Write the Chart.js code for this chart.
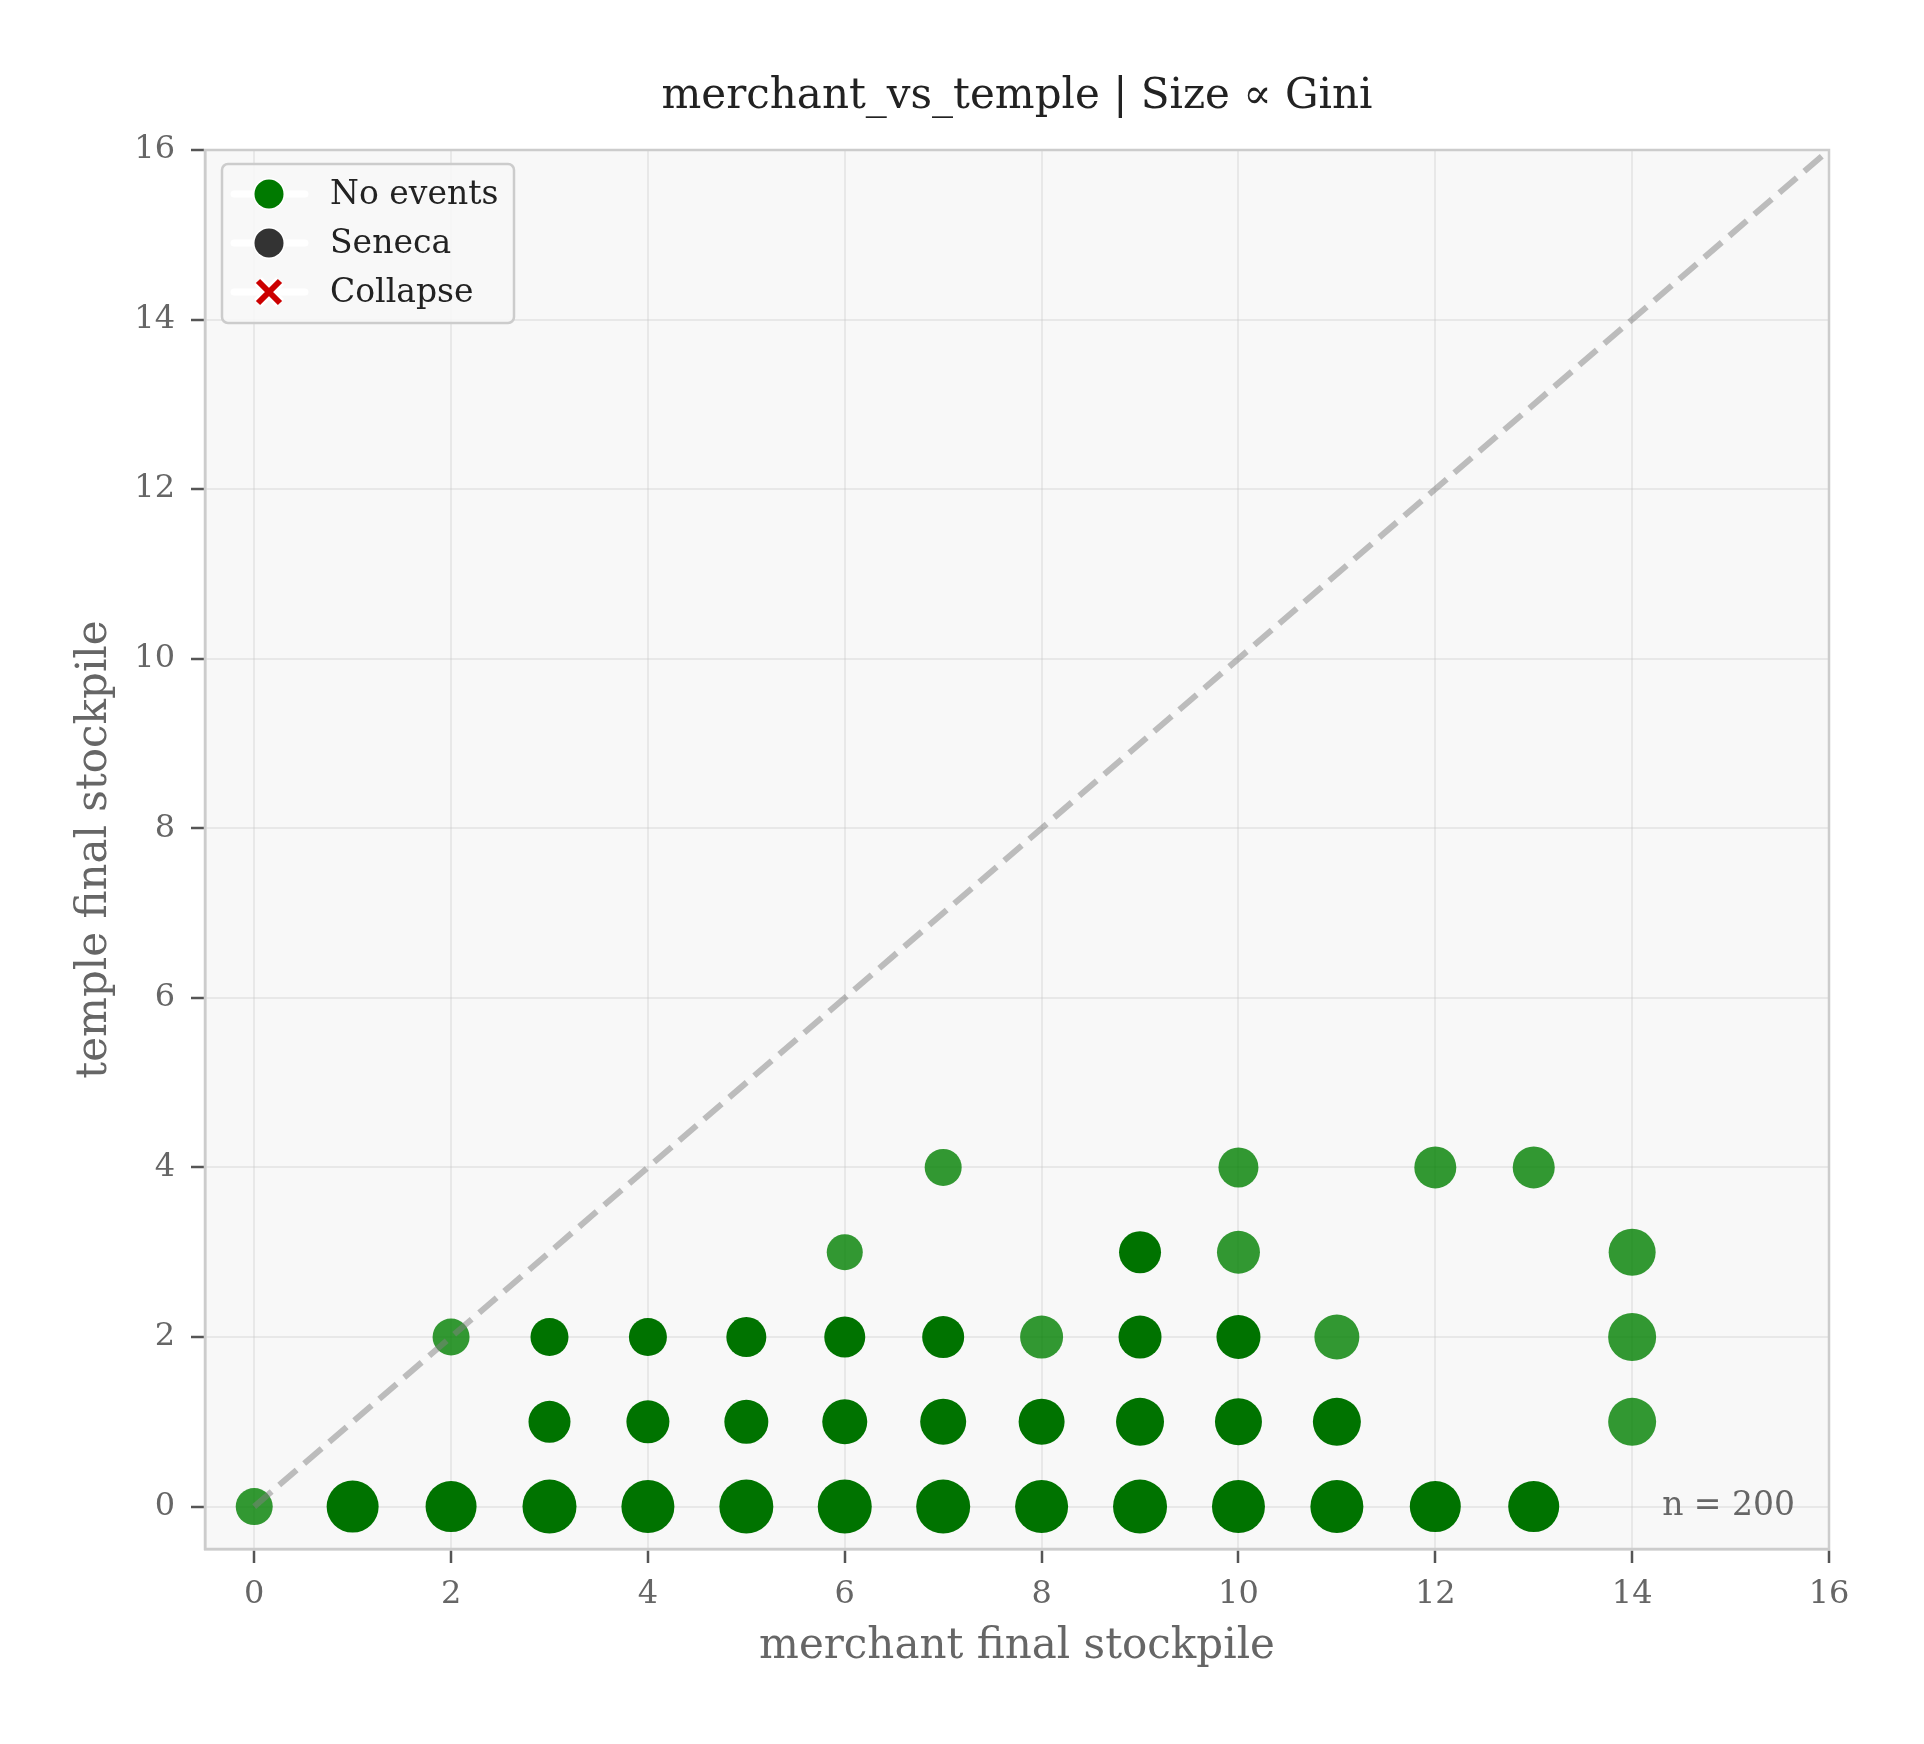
<!DOCTYPE html>
<html lang="en">
<head>
  <meta charset="utf-8" />
  <title>merchant_vs_temple | Size ∝ Gini</title>
  <script src="https://cdn.jsdelivr.net/npm/chart.js@4.4.1/dist/chart.umd.min.js"></script>
  <style>
    html, body { margin: 0; padding: 0; background: #ffffff; }
    #wrap { width: 1924px; height: 1744px; position: relative; }
  </style>
</head>
<body>
  <div id="wrap"><canvas id="c"></canvas></div>
  <script>
    // one entry per visible (merchant, temple) cell
    const merchant = [0, 1, 2, 3, 4, 5, 6, 7, 8, 9, 10, 11, 12, 13,
      3, 4, 5, 6, 7, 8, 9, 10, 11, 14,
      2, 3, 4, 5, 6, 7, 8, 9, 10, 11, 14,
      6, 9, 10, 14,
      7, 10, 12, 13];
    const temple = [0, 0, 0, 0, 0, 0, 0, 0, 0, 0, 0, 0, 0, 0,
      1, 1, 1, 1, 1, 1, 1, 1, 1, 1,
      2, 2, 2, 2, 2, 2, 2, 2, 2, 2, 2,
      3, 3, 3, 3,
      4, 4, 4, 4];
    const gini = [0.37, 0.52, 0.51, 0.54, 0.53, 0.54, 0.54, 0.54, 0.53, 0.54, 0.53, 0.53, 0.51, 0.51,
      0.42, 0.43, 0.44, 0.45, 0.46, 0.46, 0.48, 0.47, 0.48, 0.48,
      0.37, 0.38, 0.38, 0.40, 0.41, 0.42, 0.43, 0.43, 0.44, 0.45, 0.48,
      0.36, 0.42, 0.43, 0.47,
      0.37, 0.40, 0.42, 0.42];
    // runs landing on the same cell (estimated, 200 total)
    const runs = [1, 9, 9, 9, 9, 9, 9, 9, 9, 9, 9, 9, 9, 9,
      5, 5, 5, 5, 5, 5, 5, 5, 5, 1,
      1, 3, 3, 3, 3, 3, 1, 3, 3, 1, 1,
      1, 4, 1, 1,
      1, 1, 1, 1];
    const xTicks = [0, 2, 4, 6, 8, 10, 12, 14, 16];
    const yTicks = [0, 2, 4, 6, 8, 10, 12, 14, 16];
    const nRuns = 200;
    const chartTitle = 'merchant_vs_temple | Size ∝ Gini';

    const SERIF = "'DejaVu Serif', 'Liberation Serif', serif";
    const GREEN_ONE = 'rgba(0, 128, 0, 0.8)';
    const GREEN_MANY = '#007300';

    const points = merchant.map((x, i) => ({ x, y: temple[i], g: gini[i], k: runs[i] }));

    Chart.defaults.font.family = SERIF;

    const frame = {
      id: 'frame',
      beforeDraw(chart) {
        const { ctx, chartArea: a } = chart;
        ctx.save();
        ctx.fillStyle = '#f8f8f8';
        ctx.fillRect(a.left, a.top, a.right - a.left, a.bottom - a.top);
        ctx.restore();
      },
      afterDraw(chart) {
        const { ctx, chartArea: a } = chart;
        ctx.save();
        ctx.strokeStyle = '#cccccc';
        ctx.lineWidth = 2.5;
        ctx.strokeRect(a.left, a.top, a.right - a.left, a.bottom - a.top);
        // title, centred over the plot area
        ctx.font = '42px ' + SERIF;
        ctx.fillStyle = '#222222';
        ctx.textAlign = 'center';
        ctx.textBaseline = 'alphabetic';
        ctx.fillText(chartTitle, (a.left + a.right) / 2, a.top - 42);
        // run count note
        ctx.font = '33px ' + SERIF;
        ctx.fillStyle = '#666666';
        ctx.textAlign = 'right';
        ctx.fillText('n = ' + nRuns, a.right - 34, a.bottom - 34);
        ctx.restore();
      }
    };

    const innerLegend = {
      id: 'innerLegend',
      afterDraw(chart) {
        const { ctx, chartArea: a } = chart;
        const items = chart.data.datasets.filter((d) => d.inLegend);
        const x0 = a.left + 17, y0 = a.top + 14, w = 292, rowH = 49;
        const h = 30 + rowH * (items.length - 1) + 31;
        ctx.save();
        ctx.beginPath();
        ctx.roundRect(x0, y0, w, h, 6);
        ctx.fillStyle = 'rgba(248,248,248,0.85)';
        ctx.fill();
        ctx.strokeStyle = '#cccccc';
        ctx.lineWidth = 2.5;
        ctx.stroke();
        items.forEach((d, i) => {
          const cy = y0 + 30 + i * rowH;
          const mx = x0 + 47;
          ctx.strokeStyle = '#ffffff';
          ctx.lineCap = 'round';
          ctx.lineWidth = 7;
          ctx.beginPath();
          ctx.moveTo(x0 + 12, cy);
          ctx.lineTo(x0 + 83, cy);
          ctx.stroke();
          if (d.pointStyle === 'crossRot') {
            const r = 11;
            [['#ffffff', 11], [d.legendColor, 6]].forEach(([col, lw]) => {
              ctx.strokeStyle = col;
              ctx.lineWidth = lw;
              ctx.lineCap = 'butt';
              ctx.beginPath();
              ctx.moveTo(mx - r, cy - r); ctx.lineTo(mx + r, cy + r);
              ctx.moveTo(mx - r, cy + r); ctx.lineTo(mx + r, cy - r);
              ctx.stroke();
            });
          } else {
            ctx.beginPath();
            ctx.arc(mx, cy, 16, 0, Math.PI * 2);
            ctx.fillStyle = '#ffffff';
            ctx.fill();
            ctx.beginPath();
            ctx.arc(mx, cy, 14.5, 0, Math.PI * 2);
            ctx.fillStyle = d.legendColor;
            ctx.fill();
          }
          ctx.font = '33px ' + SERIF;
          ctx.fillStyle = '#222222';
          ctx.textAlign = 'left';
          ctx.textBaseline = 'middle';
          ctx.fillText(d.label, x0 + 108, cy + 1);
        });
        ctx.restore();
      }
    };

    const tickFont = { family: SERIF, size: 32 };
    const gridOpts = {
      color: 'rgba(200,200,200,0.32)',
      lineWidth: 2,
      tickColor: '#555555',
      tickWidth: 2.5,
      tickLength: 14
    };

    new Chart(document.getElementById('c'), {
      data: {
        datasets: [
          {
            type: 'line',
            label: 'diagonal',
            data: [{ x: 0, y: 0 }, { x: 16, y: 16 }],
            borderColor: 'rgba(128,128,128,0.5)',
            borderWidth: 6,
            borderDash: [23, 10],
            pointRadius: 0,
            fill: false,
            order: 0
          },
          {
            type: 'scatter',
            label: 'No events',
            inLegend: true,
            legendColor: '#007a00',
            data: points,
            pointRadius: (c) => (c.raw ? c.raw.g * 50 : 0),
            pointHoverRadius: (c) => (c.raw ? c.raw.g * 50 : 0),
            backgroundColor: (c) => (c.raw && c.raw.k > 1 ? GREEN_MANY : GREEN_ONE),
            borderWidth: 0,
            order: 1
          },
          {
            type: 'scatter',
            label: 'Seneca',
            inLegend: true,
            legendColor: '#333333',
            data: [],
            backgroundColor: '#333333',
            order: 2
          },
          {
            type: 'scatter',
            label: 'Collapse',
            inLegend: true,
            legendColor: '#cc0000',
            pointStyle: 'crossRot',
            data: [],
            borderColor: '#cc0000',
            order: 3
          }
        ]
      },
      options: {
        responsive: true,
        maintainAspectRatio: false,
        devicePixelRatio: 1,
        animation: false,
        events: [],
        layout: { padding: { top: 150, left: 0, right: 95, bottom: 0 } },
        plugins: {
          legend: { display: false },
          tooltip: { enabled: false },
          title: { display: false }
        },
        scales: {
          x: {
            type: 'linear',
            min: -0.5,
            max: 16,
            z: 1,
            afterBuildTicks: (s) => { s.ticks = xTicks.map((v) => ({ value: v })); },
            afterFit: (s) => { s.height = 195; },
            grid: gridOpts,
            border: { display: true, color: '#cccccc', width: 2.5 },
            ticks: { font: tickFont, color: '#666666', padding: 12, maxRotation: 0 },
            title: {
              display: true,
              text: 'merchant final stockpile',
              color: '#666666',
              font: { family: SERIF, size: 42, lineHeight: 1.2 },
              padding: { top: 0, bottom: 72 }
            }
          },
          y: {
            type: 'linear',
            min: -0.5,
            max: 16,
            z: 1,
            afterBuildTicks: (s) => { s.ticks = yTicks.map((v) => ({ value: v })); },
            afterFit: (s) => { s.width = 205; },
            grid: gridOpts,
            border: { display: true, color: '#cccccc', width: 2.5 },
            ticks: { font: tickFont, color: '#666666', padding: 16 },
            title: {
              display: true,
              text: 'temple final stockpile',
              color: '#666666',
              font: { family: SERIF, size: 42, lineHeight: 1.2 },
              padding: { top: 70, bottom: 0 }
            }
          }
        }
      },
      plugins: [frame, innerLegend]
    });
  </script>
</body>
</html>
